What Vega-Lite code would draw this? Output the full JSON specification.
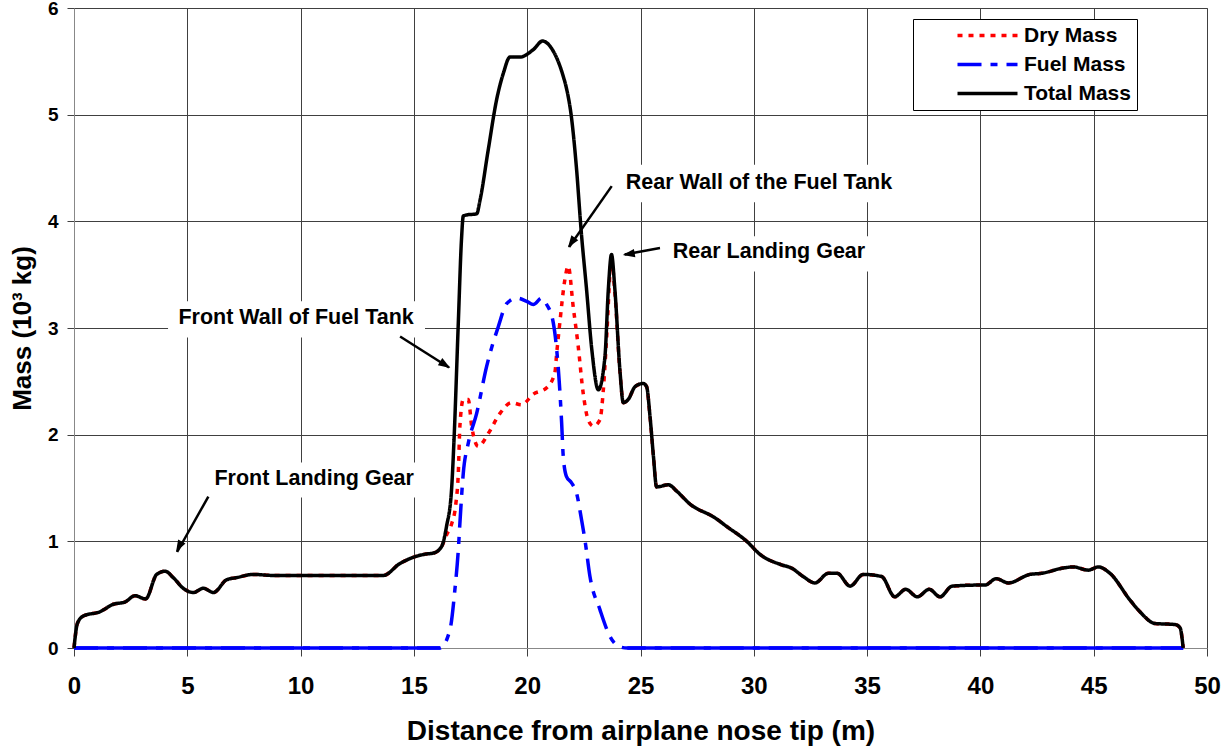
{
  "$schema": "https://vega.github.io/schema/vega-lite/v6.json",
  "width": 1133,
  "height": 640,
  "autosize": {"type": "none"},
  "padding": {"left": 74, "top": 8, "right": 14, "bottom": 98},
  "background": "white",
  "config": {
    "font": "Liberation Sans",
    "view": {"stroke": "#888888", "strokeWidth": 1},
    "axis": {
      "grid": true,
      "gridColor": "#404040",
      "gridWidth": 1,
      "domainColor": "#888888",
      "tickColor": "#404040",
      "labelFont": "Liberation Sans",
      "labelFontWeight": "bold",
      "labelColor": "black",
      "titleFont": "Liberation Sans",
      "titleFontWeight": "bold",
      "titleColor": "black"
    },
    "axisX": {"tickCount": 10, "tickSize": 8, "labelFontSize": 24, "labelPadding": 18, "titleFontSize": 28, "titlePadding": 19, "labelFlush": false},
    "axisY": {"tickCount": 6, "tickSize": 7, "labelFontSize": 19, "labelPadding": 9, "titleFontSize": 26, "titlePadding": 12}
  },
  "datasets": {
    "mass": [
      {"x": 0, "mass": 0, "series": "Dry Mass"},
      {"x": 0.15, "mass": 0.23, "series": "Dry Mass"},
      {"x": 0.41, "mass": 0.30, "series": "Dry Mass"},
      {"x": 1.15, "mass": 0.34, "series": "Dry Mass"},
      {"x": 1.73, "mass": 0.41, "series": "Dry Mass"},
      {"x": 2.24, "mass": 0.43, "series": "Dry Mass"},
      {"x": 2.69, "mass": 0.49, "series": "Dry Mass"},
      {"x": 3.16, "mass": 0.46, "series": "Dry Mass"},
      {"x": 3.65, "mass": 0.69, "series": "Dry Mass"},
      {"x": 4.02, "mass": 0.72, "series": "Dry Mass"},
      {"x": 4.38, "mass": 0.66, "series": "Dry Mass"},
      {"x": 4.82, "mass": 0.56, "series": "Dry Mass"},
      {"x": 5.27, "mass": 0.52, "series": "Dry Mass"},
      {"x": 5.71, "mass": 0.56, "series": "Dry Mass"},
      {"x": 6.15, "mass": 0.52, "series": "Dry Mass"},
      {"x": 6.74, "mass": 0.64, "series": "Dry Mass"},
      {"x": 7.18, "mass": 0.66, "series": "Dry Mass"},
      {"x": 7.91, "mass": 0.69, "series": "Dry Mass"},
      {"x": 8.80, "mass": 0.68, "series": "Dry Mass"},
      {"x": 13.65, "mass": 0.68, "series": "Dry Mass"},
      {"x": 14.37, "mass": 0.79, "series": "Dry Mass"},
      {"x": 14.97, "mass": 0.85, "series": "Dry Mass"},
      {"x": 15.5, "mass": 0.88, "series": "Dry Mass"},
      {"x": 15.86, "mass": 0.89, "series": "Dry Mass"},
      {"x": 16.22, "mass": 0.95, "series": "Dry Mass"},
      {"x": 16.44, "mass": 1.06, "series": "Dry Mass"},
      {"x": 16.66, "mass": 1.16, "series": "Dry Mass"},
      {"x": 16.85, "mass": 1.35, "series": "Dry Mass"},
      {"x": 16.96, "mass": 1.64, "series": "Dry Mass"},
      {"x": 17.03, "mass": 2.08, "series": "Dry Mass"},
      {"x": 17.18, "mass": 2.33, "series": "Dry Mass"},
      {"x": 17.4, "mass": 2.33, "series": "Dry Mass"},
      {"x": 17.55, "mass": 2.08, "series": "Dry Mass"},
      {"x": 17.84, "mass": 1.89, "series": "Dry Mass"},
      {"x": 18.28, "mass": 2.01, "series": "Dry Mass"},
      {"x": 18.8, "mass": 2.20, "series": "Dry Mass"},
      {"x": 19.31, "mass": 2.30, "series": "Dry Mass"},
      {"x": 19.75, "mass": 2.28, "series": "Dry Mass"},
      {"x": 20.27, "mass": 2.38, "series": "Dry Mass"},
      {"x": 20.86, "mass": 2.44, "series": "Dry Mass"},
      {"x": 21.22, "mass": 2.58, "series": "Dry Mass"},
      {"x": 21.3, "mass": 2.76, "series": "Dry Mass"},
      {"x": 21.44, "mass": 3.05, "series": "Dry Mass"},
      {"x": 21.66, "mass": 3.45, "series": "Dry Mass"},
      {"x": 21.81, "mass": 3.58, "series": "Dry Mass"},
      {"x": 22.03, "mass": 3.20, "series": "Dry Mass"},
      {"x": 22.25, "mass": 2.83, "series": "Dry Mass"},
      {"x": 22.47, "mass": 2.39, "series": "Dry Mass"},
      {"x": 22.69, "mass": 2.14, "series": "Dry Mass"},
      {"x": 22.92, "mass": 2.08, "series": "Dry Mass"},
      {"x": 23.21, "mass": 2.14, "series": "Dry Mass"},
      {"x": 23.36, "mass": 2.42, "series": "Dry Mass"},
      {"x": 23.5, "mass": 2.89, "series": "Dry Mass"},
      {"x": 23.72, "mass": 3.64, "series": "Dry Mass"},
      {"x": 23.87, "mass": 3.33, "series": "Dry Mass"},
      {"x": 24.1, "mass": 2.57, "series": "Dry Mass"},
      {"x": 24.24, "mass": 2.30, "series": "Dry Mass"},
      {"x": 24.46, "mass": 2.33, "series": "Dry Mass"},
      {"x": 24.76, "mass": 2.45, "series": "Dry Mass"},
      {"x": 25.12, "mass": 2.48, "series": "Dry Mass"},
      {"x": 25.27, "mass": 2.45, "series": "Dry Mass"},
      {"x": 25.42, "mass": 2.17, "series": "Dry Mass"},
      {"x": 25.57, "mass": 1.80, "series": "Dry Mass"},
      {"x": 25.71, "mass": 1.51, "series": "Dry Mass"},
      {"x": 26.23, "mass": 1.53, "series": "Dry Mass"},
      {"x": 26.6, "mass": 1.47, "series": "Dry Mass"},
      {"x": 27.18, "mass": 1.35, "series": "Dry Mass"},
      {"x": 28.29, "mass": 1.22, "series": "Dry Mass"},
      {"x": 28.8, "mass": 1.14, "series": "Dry Mass"},
      {"x": 29.69, "mass": 1.00, "series": "Dry Mass"},
      {"x": 30.26, "mass": 0.88, "series": "Dry Mass"},
      {"x": 31.22, "mass": 0.78, "series": "Dry Mass"},
      {"x": 31.66, "mass": 0.75, "series": "Dry Mass"},
      {"x": 32.18, "mass": 0.67, "series": "Dry Mass"},
      {"x": 32.7, "mass": 0.61, "series": "Dry Mass"},
      {"x": 33.29, "mass": 0.70, "series": "Dry Mass"},
      {"x": 33.68, "mass": 0.70, "series": "Dry Mass"},
      {"x": 34.25, "mass": 0.58, "series": "Dry Mass"},
      {"x": 34.83, "mass": 0.69, "series": "Dry Mass"},
      {"x": 35.64, "mass": 0.67, "series": "Dry Mass"},
      {"x": 36.22, "mass": 0.48, "series": "Dry Mass"},
      {"x": 36.7, "mass": 0.55, "series": "Dry Mass"},
      {"x": 37.22, "mass": 0.48, "series": "Dry Mass"},
      {"x": 37.74, "mass": 0.55, "series": "Dry Mass"},
      {"x": 38.22, "mass": 0.48, "series": "Dry Mass"},
      {"x": 38.75, "mass": 0.58, "series": "Dry Mass"},
      {"x": 39.98, "mass": 0.59, "series": "Dry Mass"},
      {"x": 40.2, "mass": 0.59, "series": "Dry Mass"},
      {"x": 40.7, "mass": 0.65, "series": "Dry Mass"},
      {"x": 41.23, "mass": 0.61, "series": "Dry Mass"},
      {"x": 42.19, "mass": 0.69, "series": "Dry Mass"},
      {"x": 42.7, "mass": 0.70, "series": "Dry Mass"},
      {"x": 43.66, "mass": 0.75, "series": "Dry Mass"},
      {"x": 44.1, "mass": 0.76, "series": "Dry Mass"},
      {"x": 44.76, "mass": 0.73, "series": "Dry Mass"},
      {"x": 45.2, "mass": 0.76, "series": "Dry Mass"},
      {"x": 45.72, "mass": 0.70, "series": "Dry Mass"},
      {"x": 46.6, "mass": 0.45, "series": "Dry Mass"},
      {"x": 47.04, "mass": 0.34, "series": "Dry Mass"},
      {"x": 47.7, "mass": 0.23, "series": "Dry Mass"},
      {"x": 48.59, "mass": 0.22, "series": "Dry Mass"},
      {"x": 48.81, "mass": 0.19, "series": "Dry Mass"},
      {"x": 48.95, "mass": 0, "series": "Dry Mass"},

      {"x": 0, "mass": 0, "series": "Fuel Mass"},
      {"x": 16.15, "mass": 0, "series": "Fuel Mass"},
      {"x": 16.59, "mass": 0.17, "series": "Fuel Mass"},
      {"x": 16.81, "mass": 0.55, "series": "Fuel Mass"},
      {"x": 16.96, "mass": 0.92, "series": "Fuel Mass"},
      {"x": 17.03, "mass": 1.17, "series": "Fuel Mass"},
      {"x": 17.18, "mass": 1.64, "series": "Fuel Mass"},
      {"x": 17.4, "mass": 1.92, "series": "Fuel Mass"},
      {"x": 17.77, "mass": 2.20, "series": "Fuel Mass"},
      {"x": 18.21, "mass": 2.64, "series": "Fuel Mass"},
      {"x": 18.72, "mass": 3.01, "series": "Fuel Mass"},
      {"x": 19.1, "mass": 3.23, "series": "Fuel Mass"},
      {"x": 19.54, "mass": 3.28, "series": "Fuel Mass"},
      {"x": 19.98, "mass": 3.25, "series": "Fuel Mass"},
      {"x": 20.27, "mass": 3.22, "series": "Fuel Mass"},
      {"x": 20.64, "mass": 3.28, "series": "Fuel Mass"},
      {"x": 20.86, "mass": 3.22, "series": "Fuel Mass"},
      {"x": 21.15, "mass": 3.05, "series": "Fuel Mass"},
      {"x": 21.3, "mass": 2.80, "series": "Fuel Mass"},
      {"x": 21.41, "mass": 2.51, "series": "Fuel Mass"},
      {"x": 21.52, "mass": 2.11, "series": "Fuel Mass"},
      {"x": 21.59, "mass": 1.80, "series": "Fuel Mass"},
      {"x": 21.73, "mass": 1.61, "series": "Fuel Mass"},
      {"x": 21.95, "mass": 1.55, "series": "Fuel Mass"},
      {"x": 22.18, "mass": 1.45, "series": "Fuel Mass"},
      {"x": 22.4, "mass": 1.20, "series": "Fuel Mass"},
      {"x": 22.55, "mass": 1.01, "series": "Fuel Mass"},
      {"x": 22.77, "mass": 0.67, "series": "Fuel Mass"},
      {"x": 23.21, "mass": 0.36, "series": "Fuel Mass"},
      {"x": 23.65, "mass": 0.11, "series": "Fuel Mass"},
      {"x": 24.1, "mass": 0.01, "series": "Fuel Mass"},
      {"x": 24.42, "mass": 0, "series": "Fuel Mass"},
      {"x": 48.95, "mass": 0, "series": "Fuel Mass"},

      {"x": 0, "mass": 0, "series": "Total Mass"},
      {"x": 0.15, "mass": 0.23, "series": "Total Mass"},
      {"x": 0.41, "mass": 0.30, "series": "Total Mass"},
      {"x": 1.15, "mass": 0.34, "series": "Total Mass"},
      {"x": 1.73, "mass": 0.41, "series": "Total Mass"},
      {"x": 2.24, "mass": 0.43, "series": "Total Mass"},
      {"x": 2.69, "mass": 0.49, "series": "Total Mass"},
      {"x": 3.16, "mass": 0.46, "series": "Total Mass"},
      {"x": 3.65, "mass": 0.69, "series": "Total Mass"},
      {"x": 4.02, "mass": 0.72, "series": "Total Mass"},
      {"x": 4.38, "mass": 0.66, "series": "Total Mass"},
      {"x": 4.82, "mass": 0.56, "series": "Total Mass"},
      {"x": 5.27, "mass": 0.52, "series": "Total Mass"},
      {"x": 5.71, "mass": 0.56, "series": "Total Mass"},
      {"x": 6.15, "mass": 0.52, "series": "Total Mass"},
      {"x": 6.74, "mass": 0.64, "series": "Total Mass"},
      {"x": 7.18, "mass": 0.66, "series": "Total Mass"},
      {"x": 7.91, "mass": 0.69, "series": "Total Mass"},
      {"x": 8.80, "mass": 0.68, "series": "Total Mass"},
      {"x": 13.65, "mass": 0.68, "series": "Total Mass"},
      {"x": 14.37, "mass": 0.79, "series": "Total Mass"},
      {"x": 14.97, "mass": 0.85, "series": "Total Mass"},
      {"x": 15.5, "mass": 0.88, "series": "Total Mass"},
      {"x": 15.86, "mass": 0.89, "series": "Total Mass"},
      {"x": 16.22, "mass": 0.95, "series": "Total Mass"},
      {"x": 16.44, "mass": 1.14, "series": "Total Mass"},
      {"x": 16.66, "mass": 1.48, "series": "Total Mass"},
      {"x": 16.77, "mass": 1.95, "series": "Total Mass"},
      {"x": 16.96, "mass": 3.05, "series": "Total Mass"},
      {"x": 17.1, "mass": 3.83, "series": "Total Mass"},
      {"x": 17.18, "mass": 4.05, "series": "Total Mass"},
      {"x": 17.33, "mass": 4.06, "series": "Total Mass"},
      {"x": 17.77, "mass": 4.07, "series": "Total Mass"},
      {"x": 17.92, "mass": 4.20, "series": "Total Mass"},
      {"x": 18.28, "mass": 4.67, "series": "Total Mass"},
      {"x": 18.65, "mass": 5.14, "series": "Total Mass"},
      {"x": 18.95, "mass": 5.39, "series": "Total Mass"},
      {"x": 19.24, "mass": 5.54, "series": "Total Mass"},
      {"x": 19.68, "mass": 5.54, "series": "Total Mass"},
      {"x": 20.27, "mass": 5.61, "series": "Total Mass"},
      {"x": 20.68, "mass": 5.69, "series": "Total Mass"},
      {"x": 21.08, "mass": 5.62, "series": "Total Mass"},
      {"x": 21.59, "mass": 5.36, "series": "Total Mass"},
      {"x": 21.73, "mass": 5.25, "series": "Total Mass"},
      {"x": 21.95, "mass": 4.98, "series": "Total Mass"},
      {"x": 22.17, "mass": 4.51, "series": "Total Mass"},
      {"x": 22.39, "mass": 3.89, "series": "Total Mass"},
      {"x": 22.62, "mass": 3.36, "series": "Total Mass"},
      {"x": 22.85, "mass": 2.80, "series": "Total Mass"},
      {"x": 23.14, "mass": 2.42, "series": "Total Mass"},
      {"x": 23.43, "mass": 2.73, "series": "Total Mass"},
      {"x": 23.58, "mass": 3.36, "series": "Total Mass"},
      {"x": 23.72, "mass": 3.69, "series": "Total Mass"},
      {"x": 23.87, "mass": 3.36, "series": "Total Mass"},
      {"x": 24.1, "mass": 2.58, "series": "Total Mass"},
      {"x": 24.24, "mass": 2.30, "series": "Total Mass"},
      {"x": 24.46, "mass": 2.33, "series": "Total Mass"},
      {"x": 24.76, "mass": 2.45, "series": "Total Mass"},
      {"x": 25.12, "mass": 2.48, "series": "Total Mass"},
      {"x": 25.27, "mass": 2.45, "series": "Total Mass"},
      {"x": 25.42, "mass": 2.17, "series": "Total Mass"},
      {"x": 25.57, "mass": 1.80, "series": "Total Mass"},
      {"x": 25.71, "mass": 1.51, "series": "Total Mass"},
      {"x": 26.23, "mass": 1.53, "series": "Total Mass"},
      {"x": 26.6, "mass": 1.47, "series": "Total Mass"},
      {"x": 27.18, "mass": 1.35, "series": "Total Mass"},
      {"x": 28.29, "mass": 1.22, "series": "Total Mass"},
      {"x": 28.8, "mass": 1.14, "series": "Total Mass"},
      {"x": 29.69, "mass": 1.00, "series": "Total Mass"},
      {"x": 30.26, "mass": 0.88, "series": "Total Mass"},
      {"x": 31.22, "mass": 0.78, "series": "Total Mass"},
      {"x": 31.66, "mass": 0.75, "series": "Total Mass"},
      {"x": 32.18, "mass": 0.67, "series": "Total Mass"},
      {"x": 32.7, "mass": 0.61, "series": "Total Mass"},
      {"x": 33.29, "mass": 0.70, "series": "Total Mass"},
      {"x": 33.68, "mass": 0.70, "series": "Total Mass"},
      {"x": 34.25, "mass": 0.58, "series": "Total Mass"},
      {"x": 34.83, "mass": 0.69, "series": "Total Mass"},
      {"x": 35.64, "mass": 0.67, "series": "Total Mass"},
      {"x": 36.22, "mass": 0.48, "series": "Total Mass"},
      {"x": 36.7, "mass": 0.55, "series": "Total Mass"},
      {"x": 37.22, "mass": 0.48, "series": "Total Mass"},
      {"x": 37.74, "mass": 0.55, "series": "Total Mass"},
      {"x": 38.22, "mass": 0.48, "series": "Total Mass"},
      {"x": 38.75, "mass": 0.58, "series": "Total Mass"},
      {"x": 39.98, "mass": 0.59, "series": "Total Mass"},
      {"x": 40.2, "mass": 0.59, "series": "Total Mass"},
      {"x": 40.7, "mass": 0.65, "series": "Total Mass"},
      {"x": 41.23, "mass": 0.61, "series": "Total Mass"},
      {"x": 42.19, "mass": 0.69, "series": "Total Mass"},
      {"x": 42.7, "mass": 0.70, "series": "Total Mass"},
      {"x": 43.66, "mass": 0.75, "series": "Total Mass"},
      {"x": 44.1, "mass": 0.76, "series": "Total Mass"},
      {"x": 44.76, "mass": 0.73, "series": "Total Mass"},
      {"x": 45.2, "mass": 0.76, "series": "Total Mass"},
      {"x": 45.72, "mass": 0.70, "series": "Total Mass"},
      {"x": 46.6, "mass": 0.45, "series": "Total Mass"},
      {"x": 47.04, "mass": 0.34, "series": "Total Mass"},
      {"x": 47.7, "mass": 0.23, "series": "Total Mass"},
      {"x": 48.59, "mass": 0.22, "series": "Total Mass"},
      {"x": 48.81, "mass": 0.19, "series": "Total Mass"},
      {"x": 48.95, "mass": 0, "series": "Total Mass"}
    ],
    "notes": [
      {"id": 1, "label": "Front Landing Gear", "tx": 10.6, "ty": 1.58, "bx0": 5.83, "bx1": 15.36, "by0": 1.41, "by1": 1.74, "ax": 5.93, "ay": 1.42, "hx": 4.55, "hy": 0.9, "cx": 4.63, "cy": 0.95},
      {"id": 2, "label": "Front Wall of Fuel Tank", "tx": 9.8, "ty": 3.09, "bx0": 4.15, "bx1": 15.49, "by0": 2.91, "by1": 3.25, "ax": 14.39, "ay": 2.92, "hx": 16.55, "hy": 2.63, "cx": 16.38, "cy": 2.655},
      {"id": 3, "label": "Rear Wall of the Fuel Tank", "tx": 30.23, "ty": 4.36, "bx0": 23.92, "bx1": 36.54, "by0": 4.18, "by1": 4.53, "ax": 23.73, "ay": 4.33, "hx": 21.85, "hy": 3.76, "cx": 21.95, "cy": 3.80},
      {"id": 4, "label": "Rear Landing Gear", "tx": 30.67, "ty": 3.71, "bx0": 26.08, "bx1": 35.26, "by0": 3.53, "by1": 3.86, "ax": 25.86, "ay": 3.75, "hx": 24.3, "hy": 3.69, "cx": 24.48, "cy": 3.693}
    ]
  },
  "layer": [
    {
      "data": {"name": "notes"},
      "mark": {"type": "rect", "fill": "white", "stroke": null},
      "encoding": {
        "x": {"field": "bx0", "type": "quantitative", "scale": {"domain": [0, 50], "nice": false}, "title": "Distance from airplane nose tip (m)"},
        "x2": {"field": "bx1"},
        "y": {"field": "by0", "type": "quantitative", "scale": {"domain": [0, 6], "nice": false}, "title": "Mass (10³ kg)"},
        "y2": {"field": "by1"}
      }
    },
    {
      "data": {"name": "mass"},
      "transform": [{"filter": "datum.series == 'Fuel Mass' && datum.x <= 16.15"}],
      "mark": {"type": "line", "color": "#0000ff", "strokeWidth": 3.5},
      "encoding": {
        "x": {"field": "x", "type": "quantitative", "scale": {"domain": [0, 50], "nice": false}, "title": "Distance from airplane nose tip (m)"},
        "y": {"field": "mass", "type": "quantitative", "scale": {"domain": [0, 6], "nice": false}, "title": "Mass (10³ kg)"}
      }
    },
    {
      "data": {"name": "mass"},
      "transform": [{"filter": "datum.series == 'Fuel Mass' && datum.x >= 24.42"}],
      "mark": {"type": "line", "color": "#0000ff", "strokeWidth": 3.5},
      "encoding": {
        "x": {"field": "x", "type": "quantitative", "scale": {"domain": [0, 50], "nice": false}, "title": "Distance from airplane nose tip (m)"},
        "y": {"field": "mass", "type": "quantitative", "scale": {"domain": [0, 6], "nice": false}, "title": "Mass (10³ kg)"}
      }
    },
    {
      "data": {"name": "mass"},
      "mark": {"type": "line", "interpolate": "monotone", "strokeCap": "butt", "strokeJoin": "round"},
      "encoding": {
        "x": {"field": "x", "type": "quantitative", "scale": {"domain": [0, 50], "nice": false}, "title": "Distance from airplane nose tip (m)"},
        "y": {"field": "mass", "type": "quantitative", "scale": {"domain": [0, 6], "nice": false}, "title": "Mass (10³ kg)"},
        "color": {
          "field": "series", "type": "nominal",
          "scale": {"domain": ["Dry Mass", "Fuel Mass", "Total Mass"], "range": ["#ff0000", "#0000ff", "#000000"]},
          "legend": {
            "title": null,
            "orient": "none",
            "legendX": 839,
            "legendY": 11,
            "padding": 6,
            "strokeColor": "black",
            "fillColor": "white",
            "symbolType": "M-6,0H6",
            "symbolSize": 100,
            "symbolOffset": 58,
            "labelOffset": 26,
            "labelFont": "Liberation Sans",
            "labelFontWeight": "bold",
            "labelFontSize": 21,
            "labelColor": "black",
            "rowPadding": 7,
            "labelExpr": "datum.label + '\u2003\u2003'"
          }
        },
        "strokeDash": {
          "field": "series", "type": "nominal",
          "scale": {"domain": ["Dry Mass", "Fuel Mass", "Total Mass"], "range": [[5, 6], [24, 9, 7, 9], [1, 0]]}
        },
        "strokeWidth": {
          "field": "series", "type": "nominal",
          "scale": {"domain": ["Dry Mass", "Fuel Mass", "Total Mass"], "range": [3.5, 3.5, 5.5]}
        }
      }
    },
    {
      "data": {"name": "notes"},
      "mark": {"type": "rule", "color": "black", "strokeWidth": 2.5},
      "encoding": {
        "x": {"field": "ax", "type": "quantitative", "scale": {"domain": [0, 50], "nice": false}, "title": "Distance from airplane nose tip (m)"},
        "y": {"field": "ay", "type": "quantitative", "scale": {"domain": [0, 6], "nice": false}, "title": "Mass (10³ kg)"},
        "x2": {"field": "hx"},
        "y2": {"field": "hy"}
      }
    },
    {
      "data": {"name": "notes"},
      "transform": [{"filter": "datum.id == 1"}],
      "mark": {"type": "point", "shape": "M0,-1L0.7,1L-0.7,1Z", "size": 144, "filled": true, "color": "black", "opacity": 1, "angle": 209},
      "encoding": {
        "x": {"field": "cx", "type": "quantitative", "scale": {"domain": [0, 50], "nice": false}, "title": "Distance from airplane nose tip (m)"},
        "y": {"field": "cy", "type": "quantitative", "scale": {"domain": [0, 6], "nice": false}, "title": "Mass (10³ kg)"}
      }
    },
    {
      "data": {"name": "notes"},
      "transform": [{"filter": "datum.id == 2"}],
      "mark": {"type": "point", "shape": "M0,-1L0.7,1L-0.7,1Z", "size": 144, "filled": true, "color": "black", "opacity": 1, "angle": 122},
      "encoding": {
        "x": {"field": "cx", "type": "quantitative", "scale": {"domain": [0, 50], "nice": false}, "title": "Distance from airplane nose tip (m)"},
        "y": {"field": "cy", "type": "quantitative", "scale": {"domain": [0, 6], "nice": false}, "title": "Mass (10³ kg)"}
      }
    },
    {
      "data": {"name": "notes"},
      "transform": [{"filter": "datum.id == 3"}],
      "mark": {"type": "point", "shape": "M0,-1L0.7,1L-0.7,1Z", "size": 144, "filled": true, "color": "black", "opacity": 1, "angle": 215},
      "encoding": {
        "x": {"field": "cx", "type": "quantitative", "scale": {"domain": [0, 50], "nice": false}, "title": "Distance from airplane nose tip (m)"},
        "y": {"field": "cy", "type": "quantitative", "scale": {"domain": [0, 6], "nice": false}, "title": "Mass (10³ kg)"}
      }
    },
    {
      "data": {"name": "notes"},
      "transform": [{"filter": "datum.id == 4"}],
      "mark": {"type": "point", "shape": "M0,-1L0.7,1L-0.7,1Z", "size": 144, "filled": true, "color": "black", "opacity": 1, "angle": 260},
      "encoding": {
        "x": {"field": "cx", "type": "quantitative", "scale": {"domain": [0, 50], "nice": false}, "title": "Distance from airplane nose tip (m)"},
        "y": {"field": "cy", "type": "quantitative", "scale": {"domain": [0, 6], "nice": false}, "title": "Mass (10³ kg)"}
      }
    },
    {
      "data": {"name": "notes"},
      "mark": {"type": "text", "font": "Liberation Sans", "fontWeight": "bold", "fontSize": 21.5, "align": "center", "baseline": "middle", "color": "black"},
      "encoding": {
        "x": {"field": "tx", "type": "quantitative", "scale": {"domain": [0, 50], "nice": false}, "title": "Distance from airplane nose tip (m)"},
        "y": {"field": "ty", "type": "quantitative", "scale": {"domain": [0, 6], "nice": false}, "title": "Mass (10³ kg)"},
        "text": {"field": "label"}
      }
    }
  ]
}
